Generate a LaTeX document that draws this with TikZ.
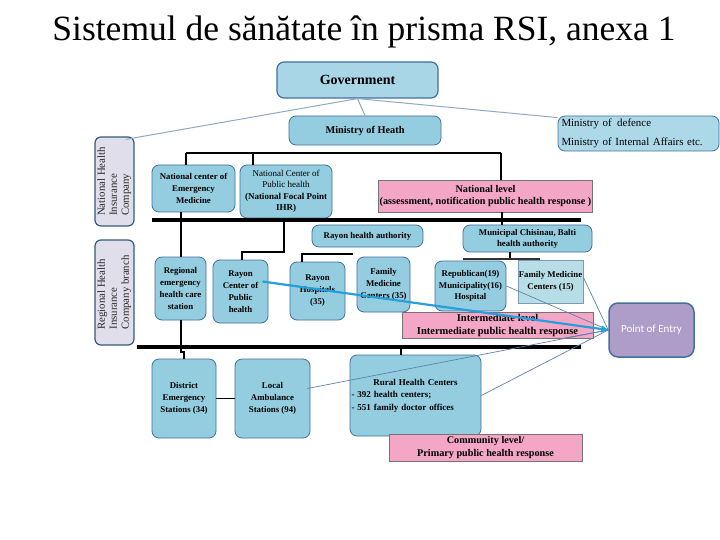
\documentclass[tikz,border=0pt]{standalone}
\usepackage{fontspec}
\usepackage{graphicx}
\setmainfont{Liberation Serif}
\newfontfamily\poefont{Carlito}
\usetikzlibrary{arrows.meta,calc,backgrounds}
\definecolor{nodeblue}{HTML}{93CDDF}
\definecolor{govblue}{HTML}{A8D6E6}
\definecolor{modblue}{HTML}{ADD8E8}
\definecolor{bdr}{HTML}{41719C}
\definecolor{pinkf}{HTML}{F4A6C6}
\definecolor{lav}{HTML}{E1DEEC}
\definecolor{poef}{HTML}{AF9DC9}
\definecolor{govline}{HTML}{8EA9C9}
\definecolor{thinl}{HTML}{5F82AC}
\definecolor{arrowb}{HTML}{25A0DA}
\definecolor{fmcf}{HTML}{B7DEE6}
\begin{document}
\begin{tikzpicture}[x=1pt,y=-1pt,
  box/.style={draw=bdr, fill=nodeblue, rounded corners=7pt, line width=0.8pt, align=center, inner sep=1pt, font=\bfseries\fontsize{8.8}{12}\selectfont},
  pinkbox/.style={draw=black!55, fill=pinkf, line width=0.6pt, align=center, inner sep=1pt},
  side/.style={draw=bdr!80!black, fill=lav, rounded corners=6pt, line width=1.2pt, inner sep=0pt, font=\fontsize{10.8}{12}\selectfont, text=black!85},
  conn/.style={line width=1.1pt, black},
  govl/.style={line width=1pt, govline},
  thinc/.style={line width=0.7pt, thinl},
  bar/.style={line width=4.5pt, black},
  bluearrow/.style={line width=2.2pt, arrowb, -{Triangle[length=7pt,width=7pt]}}
]
\useasboundingbox (0,0) rectangle (720,540);
\fill[white] (0,0) rectangle (720,540);

% title
\node (title) at (364,32) {\fontsize{35.5}{38}\selectfont Sistemul de sănătate în prisma RSI, anexa 1};

% top level
\node[box, fill=govblue, line width=1.2pt, minimum width=161pt, minimum height=36pt, font=\bfseries\fontsize{14}{16}\selectfont] (gov) at (357.5,80) {Government};
\node[box, minimum width=152pt, minimum height=29pt, font=\bfseries\fontsize{10.3}{12}\selectfont] (moh) at (365,130.5) {Ministry of Heath};
\node[box, fill=modblue, minimum width=161pt, minimum height=35pt, align=left, text width=154pt, font=\fontsize{10.9}{19}\selectfont] (mod) at (638.5,133.5) {Ministry of\enspace defence\\Ministry of Internal Affairs etc.};

% side boxes
\node[side, minimum width=39pt, minimum height=89pt] (nhic) at (114.5,181.5) {\rotatebox{90}{\begin{tabular}{@{}l@{}}National Health\\ Insurance\\ Company\end{tabular}}};
\node[side, minimum width=39pt, minimum height=105pt] (rhic) at (114.5,292.5) {\rotatebox{90}{\begin{tabular}{@{}l@{}}Regional Health\\ Insurance\\ Company branch\end{tabular}}};

% national level
\node[box, minimum width=83pt, minimum height=47pt] (ncem) at (193.5,188.5) {National center of\\Emergency\\Medicine};
\node[box, minimum width=92pt, minimum height=53pt, font=\fontsize{9}{11.5}\selectfont] (ncph) at (286,191.5) {National Center of\\Public health\\\textbf{(National Focal Point}\\\textbf{IHR)}};
\node[pinkbox, minimum width=213pt, minimum height=32pt, font=\bfseries\fontsize{10.2}{11.5}\selectfont] (natlvl) at (485.5,196) {National level\\(assessment, notification public health response )};

\node[box, minimum width=111pt, minimum height=22pt] (rha) at (367.5,236) {Rayon health authority};
\node[box, minimum width=129pt, minimum height=27pt, font=\bfseries\fontsize{8.8}{11}\selectfont] (mun) at (527.5,238.5) {Municipal Chisinau, Balti\\health authority};

% intermediate row
\node[box, minimum width=51pt, minimum height=63pt] (regem) at (180.5,288.5) {Regional\\emergency\\health care\\station};
\node[box, minimum width=55pt, minimum height=63pt] (rcph) at (240.5,291.5) {Rayon\\Center of\\Public\\health};
\node[box, minimum width=55pt, minimum height=58pt] (rhosp) at (317.5,291) {Rayon\\Hospitals\\(35)};
\node[box, minimum width=53pt, minimum height=55pt] (fmc35) at (383.5,284.5) {Family\\Medicine\\Centers (35)};
\node[box, minimum width=71pt, minimum height=50pt, font=\bfseries\fontsize{8.8}{11.5}\selectfont] (repub) at (470.5,286) {Republican(19)\\Municipality(16)\\Hospital};
\node[box, rounded corners=0pt, fill=fmcf, draw=bdr!70, line width=0.6pt, minimum width=65pt, minimum height=43pt] (fmc15) at (550.5,281.5) {Family Medicine\\Centers (15)};
\node[pinkbox, minimum width=191pt, minimum height=26pt, font=\bfseries\fontsize{10.5}{13}\selectfont] (intlvl) at (497.5,325) {Intermediate level\\Intermediate public health response};

\node[draw=bdr, fill=poef, rounded corners=9pt, line width=1.5pt, minimum width=85pt, minimum height=54pt, font=\poefont\fontsize{11}{13}\selectfont, text=white] (poe) at (651.5,330) {Point of Entry};

% primary row
\node[box, minimum width=64pt, minimum height=79pt] (dist) at (184,398.5) {District\\Emergency\\Stations (34)};
\node[box, minimum width=75pt, minimum height=79pt] (local) at (272.5,398.5) {Local\\Ambulance\\Stations (94)};
\node[box, minimum width=131pt, minimum height=81pt, text width=128pt, align=left, font=\bfseries\fontsize{9}{12.5}\selectfont] (rural) at (415.5,395.5) {\centering Rural Health Centers\par\raggedright - 392 health centers;\\- 551 family doctor offices\\[4pt]};
\node[pinkbox, minimum width=193pt, minimum height=27pt, font=\bfseries\fontsize{10.2}{13}\selectfont] (comm) at (485.5,447.5) {Community level/\\Primary public health response};

% helper coordinates
\coordinate (h1w) at (186,153);
\coordinate (h1b) at (253,153);
\coordinate (h1e) at (501,153);
\coordinate (gx) at (353,0);
\coordinate (b1w) at (152,220);
\coordinate (b1e) at (581,220);
\coordinate (b2w) at (137,347);
\coordinate (b2e) at (581,347);
\coordinate (rx) at (181,0);
\coordinate (px) at (284,0);
\coordinate (pj) at (242,252);
\coordinate (hj) at (302,254);
\coordinate (mx) at (502,0);
\coordinate (mj) at (510,259);
\coordinate (mjw) at (463,259);
\coordinate (mje) at (540,259);
\coordinate (ux) at (401,0);

% background gray line
\begin{pgfonlayer}{background}
\draw[line width=1pt, black!50] (moh.south -| gx) -- (b2w -| gx);
\end{pgfonlayer}

% government links
\draw[govl] (gov.south) -- (moh.north);
\draw[govl] (gov.south) -- ($(nhic.north east)+(-9,3)$);
\draw[govl] (gov.south) -- ($(mod.north west)+(0,2)$);

% black connectors
\draw[conn] (h1w) -- (h1e);
\draw[conn] (h1w) -- (h1w |- ncem.north);
\draw[conn] (h1b) -- (h1b |- ncph.north);
\draw[conn] (h1e) -- (h1e |- natlvl.north);
\draw[conn] (ncem.south -| rx) -- (regem.north -| rx);
\draw[conn] (ncph.south -| px) -- (pj -| px) -- (pj) -- (rcph.north -| pj);
\draw[conn] (hj -| gx) -- (hj) -- (rhosp.north -| hj);
\draw[conn] (natlvl.south -| mx) -- (mun.north -| mx);
\draw[conn] (mun.south -| mj) -- (mj);
\draw[line width=2.5pt, black!80] (mjw) -- (mje);
\draw[conn] (regem.south -| rx) -- ($(b2w -| rx)+(0,5)$) -- ($(b2w -| rx)+(3,5)$) -- (dist.north -| 184,0);
\draw[conn] (dist) -- (local);
\draw[conn] (b2w -| ux) -- (rural.north -| ux);

% bars
\draw[bar] (b1w) -- (b1e);
\draw[bar] (b2w) -- (b2e);

% thin lines to point of entry
\draw[thinc] (repub.east) -- (poe.west);
\draw[thinc] ($(fmc15.east)+(0,-4)$) -- (poe.west);
\draw[thinc] ($(intlvl.south east)+(-30,0)$) -- (poe.west);
\draw[thinc] (rural.east) -- (poe.west);
\draw[thinc] ($(local.east)+(-3,-10)$) -- (poe.west);

% blue arrow
\draw[bluearrow] ($(rcph.center)+(22,-10)$) -- (poe.west);
\end{tikzpicture}
\end{document}
